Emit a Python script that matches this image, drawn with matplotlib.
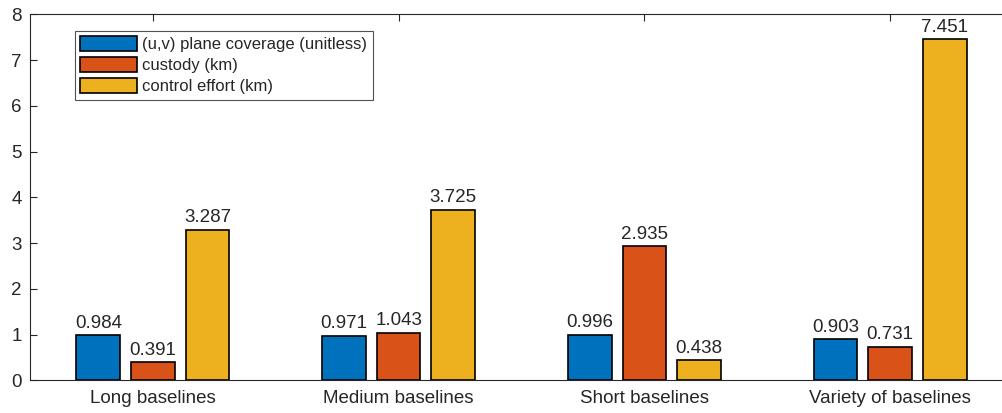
import matplotlib
matplotlib.use("Agg")
import matplotlib.pyplot as plt
import numpy as np

categories = ["Long baselines", "Medium baselines", "Short baselines", "Variety of baselines"]
series_names = ["(u,v) plane coverage (unitless)", "custody (km)", "control effort (km)"]
coverage = [0.984, 0.971, 0.996, 0.903]
custody = [0.391, 1.043, 2.935, 0.731]
control = [3.287, 3.725, 0.438, 7.451]
yticks = [0, 1, 2, 3, 4, 5, 6, 7, 8]

colors = ["#0072BD", "#D95319", "#EDB120"]
dark = "#262626"

plt.rcParams['font.family'] = ['Liberation Sans', 'DejaVu Sans']

fig = plt.figure(figsize=(10.02, 4.13), dpi=100)
ax = fig.add_axes([30 / 1002, (413 - 380.3) / 413, 983 / 1002, 366 / 413])

x = np.arange(1, len(categories) + 1)
group = 2 / 3
step = group / 3
bw = step * 0.8
all_series = [coverage, custody, control]
for i, vals in enumerate(all_series):
    pos = x + (i - 1) * step
    ax.bar(pos, vals, width=bw, color=colors[i], edgecolor="black", linewidth=1.2,
           label=series_names[i], zorder=2)
    for px, v in zip(pos, vals):
        ax.annotate(f"{v:.3f}", (px, v), xytext=(0, 2.5), textcoords="offset points",
                    ha="center", va="bottom", fontsize=13.5, color=dark)

ax.set_xlim(0.5, 4.5)
ax.set_ylim(0, 8)
ax.set_xticks(x)
ax.set_xticklabels(categories)
ax.set_yticks(yticks)
ax.tick_params(direction="in", length=5, width=0.8, colors=dark, labelsize=13.5,
               top=True, right=False)
ax.tick_params(axis="x", pad=7)
ax.tick_params(axis="y", pad=6)
ax.spines["right"].set_visible(False)
for s in ax.spines.values():
    s.set_color(dark)
    s.set_linewidth(0.8)

leg = ax.legend(loc="upper left", bbox_to_anchor=(45 / 983, (380.3 - 31) / 366),
                fontsize=12, frameon=True, fancybox=False, edgecolor=dark,
                handlelength=3.4, handleheight=1.0, handletextpad=0.35,
                labelspacing=0.3, borderpad=0.3, borderaxespad=0)
leg.get_frame().set_linewidth(0.8)
for t in leg.get_texts():
    t.set_color(dark)

fig.savefig("out.png", dpi=100)
